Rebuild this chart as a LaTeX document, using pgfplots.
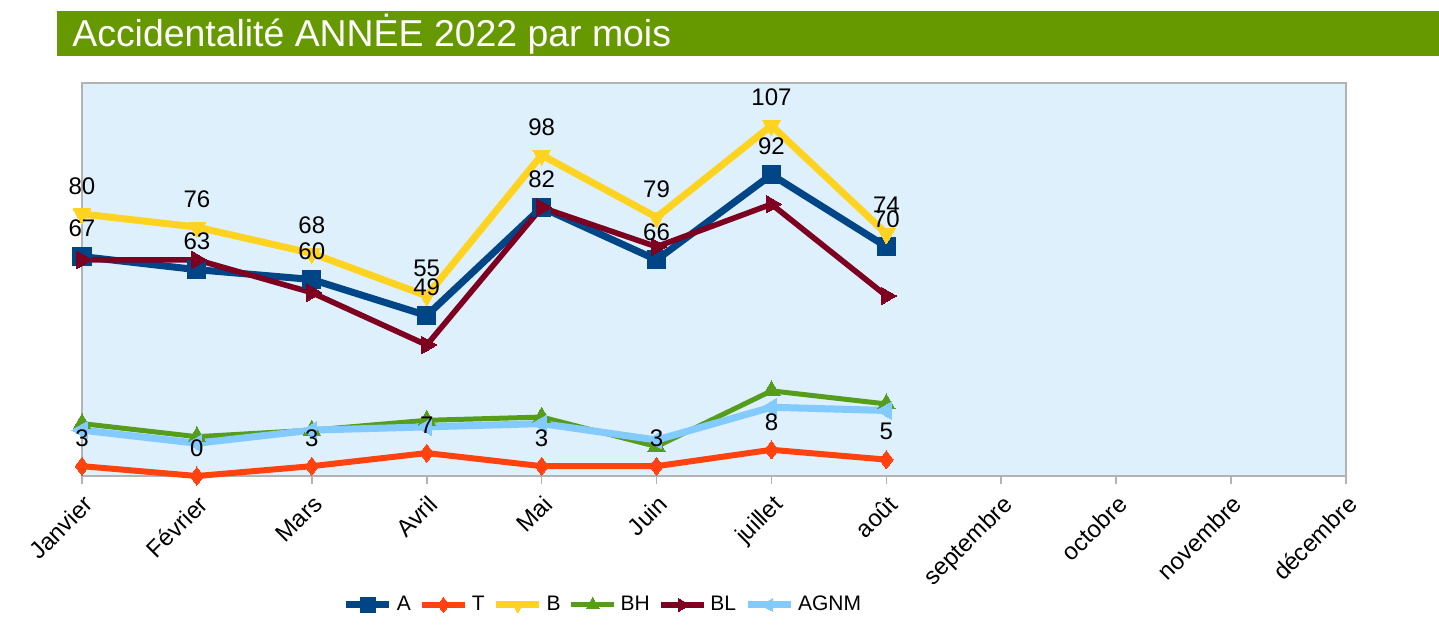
\documentclass[border=0pt]{standalone}
\usepackage{fontspec}
\setmainfont{Liberation Sans}
\usepackage{pgfplots}
\pgfplotsset{compat=1.18}

\definecolor{cA}{HTML}{004586}
\definecolor{cT}{HTML}{FF420E}
\definecolor{cB}{HTML}{FFD320}
\definecolor{cBH}{HTML}{579D1C}
\definecolor{cBL}{HTML}{7E0021}
\definecolor{cAGNM}{HTML}{83CAFF}
\definecolor{plotbg}{HTML}{DDF0FC}
\definecolor{titlebar}{HTML}{669900}
\definecolor{axgray}{HTML}{B3B3B3}

\newcommand{\lbl}{\fontsize{12bp}{14bp}\selectfont}

\begin{document}
\begin{tikzpicture}
\useasboundingbox (0,0) rectangle (719.5bp,315bp);
% title bar
\fill[titlebar] (28.5bp,287bp) rectangle (719.5bp,309.5bp);
\node[anchor=west, text=white, inner sep=0pt, font=\fontsize{18.7bp}{22bp}\selectfont]
  at (36bp,298bp) {Accidentalité ANNĖE 2022 par mois};

\begin{axis}[
    at={(41bp,77bp)}, anchor=south west,
    scale only axis,
    width=632bp, height=196.5bp,
    xmin=0, xmax=11, ymin=0, ymax=120,
    clip=false,
    axis background/.style={fill=plotbg},
    axis line style={axgray, line width=0.8bp},
    xtick={0,...,11},
    xticklabels={Janvier, Février, Mars, Avril, Mai, Juin, juillet, août, septembre, octobre, novembre, décembre},
    xticklabel style={rotate=45, anchor=north east, font=\lbl, text=black},
    xtick align=outside, xtick pos=bottom,
    major tick length=4bp,
    tick style={axgray, line width=0.8bp},
    ytick=\empty,
    /pgf/number format/assume math mode=true,
    nodes near coords style={anchor=center, yshift=14bp, font=\lbl, text=black},
    legend columns=6,
    legend style={at={(0.413,-0.328)}, anchor=center, draw=none, fill=none,
        font=\fontsize{10.5bp}{12bp}\selectfont,
        /tikz/every even column/.append style={column sep=2bp}},
    legend image code/.code={\draw[mark repeat=2,mark phase=2, mark size=3.8bp] plot coordinates {(0bp,0bp)(10.75bp,0bp)(21.5bp,0bp)};},
]

% A
\addplot[cA, line width=3.5bp, mark=square*, mark size=4.5bp, mark options={solid, line width=0pt}] coordinates {
    (0,67) (1,63) (2,60) (3,49) (4,82) (5,66) (6,92) (7,70)
};
\addlegendentry{A}

% T
\addplot[cT, line width=3bp, mark=diamond*, mark size=4.5bp, mark options={solid, line width=0pt}] coordinates {
    (0,3) (1,0) (2,3) (3,7) (4,3) (5,3) (6,8) (7,5)
};
\addlegendentry{T}

% B
\addplot[cB, line width=3.5bp, mark=triangle*, mark size=5bp, mark options={solid, rotate=180, line width=0pt}] coordinates {
    (0,80) (1,76) (2,68) (3,55) (4,98) (5,79) (6,107) (7,74)
};
\addlegendentry{B}

% BH
\addplot[cBH, line width=2.5bp, mark=triangle*, mark size=5bp, mark options={solid, line width=0pt}] coordinates {
    (0,16) (1,12) (2,14) (3,17) (4,18) (5,9) (6,26) (7,22)
};
\addlegendentry{BH}

% BL
\addplot[cBL, line width=2.8bp, mark=triangle*, mark size=5bp, mark options={solid, rotate=-90, line width=0pt}] coordinates {
    (0,66) (1,66) (2,56) (3,40) (4,82) (5,70) (6,83) (7,55)
};
\addlegendentry{BL}

% AGNM
\addplot[cAGNM, line width=3.5bp, mark=triangle*, mark size=5bp, mark options={solid, rotate=90, line width=0pt}] coordinates {
    (0,14) (1,10) (2,14) (3,15) (4,16) (5,11) (6,21) (7,20)
};
\addlegendentry{AGNM}

% data labels on top of all lines
\addplot[draw=none, forget plot, nodes near coords] coordinates {
    (0,67) (1,63) (2,60) (3,49) (4,82) (5,66) (6,92) (7,70)
};
\addplot[draw=none, forget plot, nodes near coords] coordinates {
    (0,3) (1,0) (2,3) (3,7) (4,3) (5,3) (6,8) (7,5)
};
\addplot[draw=none, forget plot, nodes near coords] coordinates {
    (0,80) (1,76) (2,68) (3,55) (4,98) (5,79) (6,107) (7,74)
};

\end{axis}
\end{tikzpicture}
\end{document}
